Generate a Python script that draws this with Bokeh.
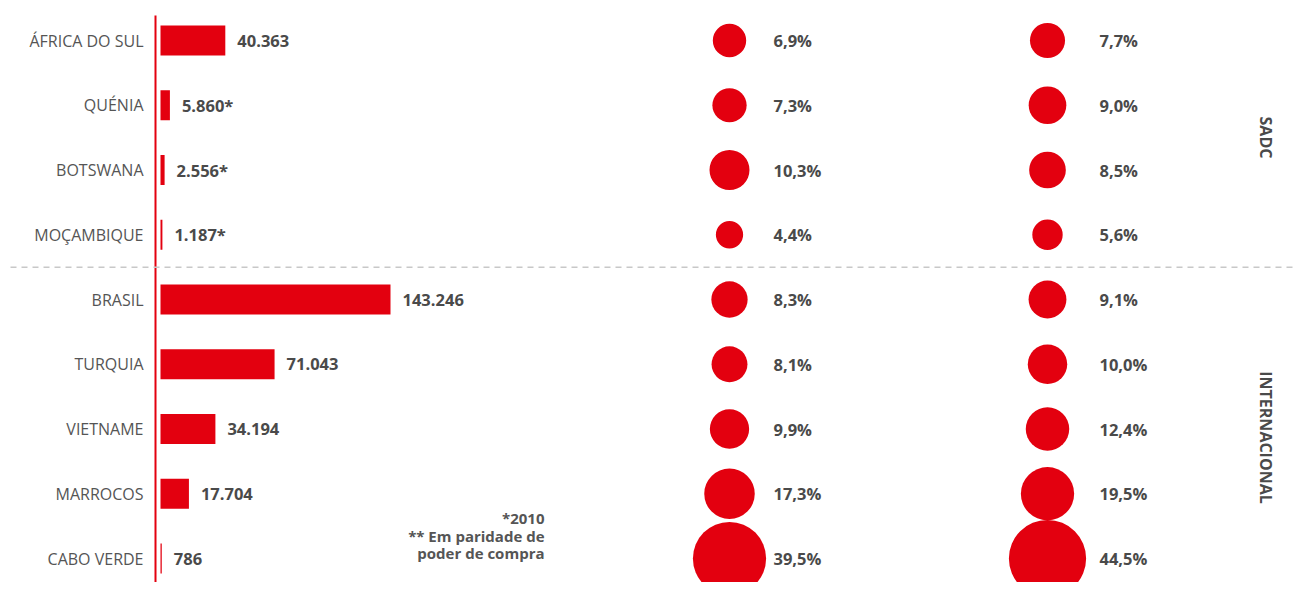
import math
from bokeh.plotting import figure
from bokeh.models import Range1d, ColumnDataSource
from bokeh.core.properties import value
from bokeh.embed import file_html
from bokeh.resources import INLINE

# ---- data ----
countries = ["ÁFRICA DO SUL", "QUÉNIA", "BOTSWANA", "MOÇAMBIQUE",
             "BRASIL", "TURQUIA", "VIETNAME", "MARROCOS", "CABO VERDE"]
gdp = [40363, 5860, 2556, 1187, 143246, 71043, 34194, 17704, 786]
gdp_2010 = [False, True, True, True, False, False, False, False, False]
pct_a = [6.9, 7.3, 10.3, 4.4, 8.3, 8.1, 9.9, 17.3, 39.5]
pct_b = [7.7, 9.0, 8.5, 5.6, 9.1, 10.0, 12.4, 19.5, 44.5]
groups = ["SADC", "INTERNACIONAL"]
footnote = ["*2010", "** Em paridade de", "poder de compra"]

# ---- style / layout ----
RED = "#e3000f"
GREY = "#4a4a4a"
FONT = "Open Sans"
W, H = 1297, 582
ROW0, ROWSTEP = 40.0, 64.75   # page y of first row, spacing


def prow(page_y):
    return (page_y - ROW0) / ROWSTEP


rows = list(range(len(countries)))
gdp_labels = [f"{v:,}".replace(",", ".") + ("*" if s else "") for v, s in zip(gdp, gdp_2010)]
fmt = lambda v: f"{v:.1f}".replace(".", ",") + "%"
pa_labels = [fmt(v) for v in pct_a]
pb_labels = [fmt(v) for v in pct_b]
bubble = lambda v: 14 * v ** 0.45
size_a = [bubble(v) for v in pct_a]
size_b = [bubble(v) for v in pct_b]

src = ColumnDataSource(dict(y=rows, country=countries, gdp=gdp, gdp_label=gdp_labels,
                            pa=pa_labels, pb=pb_labels, sa=size_a, sb=size_b))

p = figure(width=W, height=H, x_range=Range1d(0, W),
           y_range=Range1d(prow(H), prow(0)),
           output_backend="svg", toolbar_location=None, min_border=0,
           x_axis_location=None, y_axis_location=None, outline_line_color=None)
p.grid.visible = False
p.background_fill_color = "white"

# bar scale: 0 at page x 160, max value spans 230 px
BAR_X0, BAR_MAX_PX = 160, 230
upp = max(gdp) / BAR_MAX_PX
bstart = -BAR_X0 * upp
p.extra_x_ranges = {"bars": Range1d(bstart, bstart + W * upp)}

# separators
p.segment(x0=[155], y0=[prow(15)], x1=[155], y1=[prow(600)], line_color=RED, line_width=2)
p.segment(x0=[10], y0=[3.5], x1=[1305], y1=[3.5], line_color="#c8c8c8",
          line_width=1.5, line_dash="6 5")

# bars
p.hbar(y="y", left=0, right="gdp", height=0.46, source=src, x_range_name="bars",
       fill_color=RED, line_color=None)
p.text(x="gdp", y="y", text="gdp_label", source=src, x_range_name="bars", x_offset=12,
       text_align="left", text_baseline="middle", text_font=value(FONT),
       text_font_style="bold", text_font_size="16.5px", text_color=GREY)

# country labels
p.text(x=143, y="y", text="country", source=src, text_align="right",
       text_baseline="middle", text_font=value(FONT), text_font_size="16px",
       text_color="#555555")

# bubbles
p.scatter(x=729, y="y", size="sa", source=src, fill_color=RED, line_color=None)
p.scatter(x=1047, y="y", size="sb", source=src, fill_color=RED, line_color=None)
p.text(x=773, y="y", text="pa", source=src, text_align="left", text_baseline="middle",
       text_font=value(FONT), text_font_style="bold", text_font_size="16.5px", text_color=GREY)
p.text(x=1099, y="y", text="pb", source=src, text_align="left", text_baseline="middle",
       text_font=value(FONT), text_font_style="bold", text_font_size="16.5px", text_color=GREY)

# group labels
p.text(x=[1265, 1265], y=[prow(137), prow(437)], text=groups, angle=-math.pi / 2,
       text_align="center", text_baseline="middle", text_font=value(FONT),
       text_font_style="bold", text_font_size="16px", text_color=GREY)

# footnote
p.text(x=[544] * 3, y=[prow(517), prow(535), prow(552)], text=footnote,
       text_align="right", text_baseline="middle", text_font=value(FONT),
       text_font_style="bold", text_font_size="15px", text_color="#555555")

open("out.html", "w").write(file_html(p, INLINE))
